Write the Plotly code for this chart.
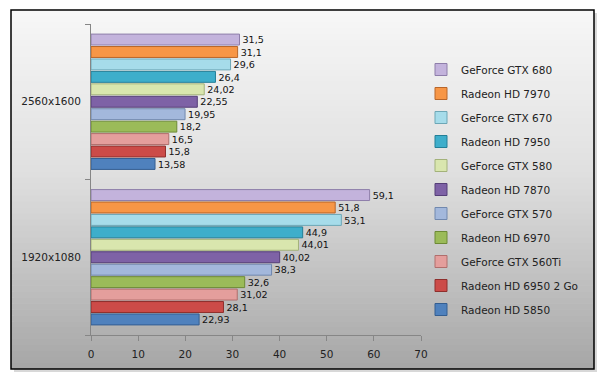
import plotly.graph_objects as go

# ---------------- data ----------------
categories = ["1920x1080", "2560x1600"]
series_names = [
    "Radeon HD 5850", "Radeon HD 6950 2 Go", "GeForce GTX 560Ti", "Radeon HD 6970",
    "GeForce GTX 570", "Radeon HD 7870", "GeForce GTX 580", "Radeon HD 7950",
    "GeForce GTX 670", "Radeon HD 7970", "GeForce GTX 680",
]
values_1920 = [22.93, 28.1, 31.02, 32.6, 38.3, 40.02, 44.01, 44.9, 53.1, 51.8, 59.1]
values_2560 = [13.58, 15.8, 16.5, 18.2, 19.95, 22.55, 24.02, 26.4, 29.6, 31.1, 31.5]
series_colors = [
    "#4F81BD", "#CC4B48", "#E49E9C", "#9BBB59", "#A3B8DC", "#7E62A6",
    "#D9E6AE", "#3EAECB", "#A6DCEA", "#F79646", "#C3B3DC",
]
line_colors = [
    "#345E91", "#8E2F2D", "#B06E6C", "#6D8A36", "#7188AE", "#553F78",
    "#A3B27A", "#237F97", "#6DA7B6", "#B8662A", "#8E7EAA",
]
x_ticks = [0, 10, 20, 30, 40, 50, 60, 70]

# ---------------- layout geometry ----------------
W, H = 601, 378
ML, MR, MT, MB = 91, 180, 24, 43
PW, PH = W - ML - MR, H - MT - MB

def px_to_paper_x(px):
    return (px - ML) / PW

def px_to_paper_y(py):
    return (H - MB - py) / PH

FONT = "DejaVu Sans"
fig = go.Figure()

n_series = len(series_names)
for i, name in enumerate(series_names):
    vals = [values_1920[i], values_2560[i]]
    fig.add_trace(go.Bar(
        name=name,
        y=categories,
        x=vals,
        orientation="h",
        marker=dict(color=series_colors[i], line=dict(color=line_colors[i], width=1)),
        text=[str(v).replace(".", ",") for v in vals],
        textposition="outside",
        textfont=dict(family=FONT, size=10.5, color="#111111"),
        cliponaxis=False,
        legendgroup="g%02d" % i,
        legendrank=100 + n_series - i,
    ))

# background gradient + frame
shapes = []
bx0, bx1, by0, by1 = 11, 594, 10, 369
shapes.append(dict(type="rect", xref="paper", yref="paper", layer="below",
                   x0=px_to_paper_x(bx0 + 3), x1=px_to_paper_x(bx1 + 3),
                   y0=px_to_paper_y(by0 + 3), y1=px_to_paper_y(by1 + 3),
                   fillcolor="#d8d8d8", line=dict(width=0)))
n = 60
def grad(t):
    stops = [(0.0, 247), (0.45, 224), (1.0, 166)]
    for (t0, c0), (t1, c1) in zip(stops[:-1], stops[1:]):
        if t <= t1:
            f = (t - t0) / (t1 - t0)
            return int(round(c0 + (c1 - c0) * f))
    return stops[-1][1]
step = (by1 - by0) / n
for k in range(n):
    y0 = by0 + k * step
    y1 = y0 + step + 0.6
    g = grad((k + 0.5) / n)
    shapes.append(dict(type="rect", xref="paper", yref="paper", layer="below",
                       x0=px_to_paper_x(bx0), x1=px_to_paper_x(bx1),
                       y0=px_to_paper_y(y0), y1=px_to_paper_y(min(y1, by1)),
                       fillcolor="rgb(%d,%d,%d)" % (g, g, g), line=dict(width=0)))
shapes.append(dict(type="rect", xref="paper", yref="paper", layer="below",
                   x0=px_to_paper_x(bx0), x1=px_to_paper_x(bx1),
                   y0=px_to_paper_y(by0), y1=px_to_paper_y(by1),
                   fillcolor="rgba(0,0,0,0)", line=dict(color="#000000", width=1.5)))

fig.update_layout(
    width=W, height=H,
    margin=dict(l=ML, r=MR, t=MT, b=MB, pad=0, autoexpand=False),
    paper_bgcolor="white",
    plot_bgcolor="rgba(0,0,0,0)",
    barmode="group",
    bargap=0.12,
    bargroupgap=0.12,
    shapes=shapes,
    font=dict(family=FONT, size=10.5, color="#222222"),
    showlegend=True,
    legend=dict(
        traceorder="grouped",
        tracegroupgap=5,
        x=px_to_paper_x(421), xanchor="left",
        y=px_to_paper_y(55), yanchor="top",
        bgcolor="rgba(0,0,0,0)",
        font=dict(family=FONT, size=10.5, color="#222222"),
        itemwidth=30,
    ),
    xaxis=dict(
        range=[0, 70], tickvals=x_ticks, ticks="outside", ticklen=5,
        tickcolor="#868686", showline=True, linecolor="#868686", linewidth=1,
        showgrid=False, zeroline=False, ticklabelstandoff=4,
        tickfont=dict(family=FONT, size=10.5, color="#222222"),
    ),
    yaxis=dict(
        type="category", categoryorder="array", categoryarray=categories,
        ticks="outside", tickson="boundaries", ticklen=5, tickcolor="#868686",
        showline=True, linecolor="#868686", linewidth=1, showgrid=False,
        ticklabelstandoff=7,
        tickfont=dict(family=FONT, size=10.5, color="#222222"),
    ),
)

fig.write_html("out.html", config={"displayModeBar": False},
               post_script="document.body.style.margin='0px';document.body.style.padding='0px';")
